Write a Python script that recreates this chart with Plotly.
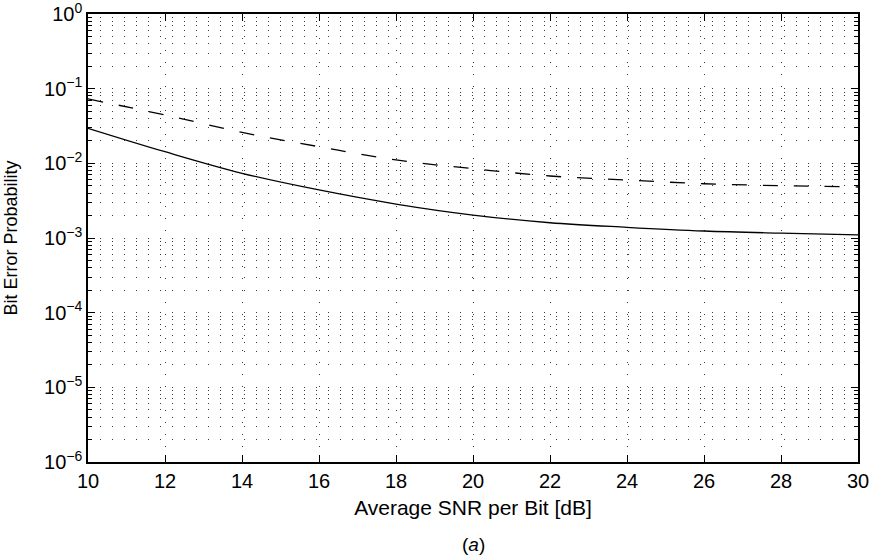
import plotly.graph_objects as go

snr_db = [10, 12, 14, 16, 18, 20, 22, 24, 26, 28, 30]
ber_solid = [0.0295, 0.0143, 0.00736, 0.00440, 0.00285, 0.00203, 0.00160, 0.00139, 0.00124, 0.00116, 0.00110]
ber_dashed = [0.0728, 0.0444, 0.0260, 0.0167, 0.0111, 0.00848, 0.00677, 0.00598, 0.00533, 0.00502, 0.00482]

x_ticks = [10, 12, 14, 16, 18, 20, 22, 24, 26, 28, 30]
y_exps = [0, -1, -2, -3, -4, -5, -6]
y_tickvals = [10.0 ** e for e in y_exps]
y_ticktext = ["10<sup>%s</sup>" % (str(e).replace("-", "\u2212")) for e in y_exps]
y_minor = [m * 10.0 ** e for e in range(-6, 0) for m in range(2, 10)]

FONT = "Liberation Sans, Arial, sans-serif"
DOT = "1px,11px"
GRIDC = "#3a3a3a"

fig = go.Figure()
fig.add_trace(go.Scatter(x=snr_db, y=ber_dashed, mode="lines",
                         line=dict(color="black", width=1.3, dash="15px,16px", shape="spline"), showlegend=False))
fig.add_trace(go.Scatter(x=snr_db, y=ber_solid, mode="lines",
                         line=dict(color="black", width=1.3, shape="spline"), showlegend=False))

fig.update_layout(
    width=873, height=560,
    margin=dict(l=88, r=15, t=14, b=98, autoexpand=False),
    paper_bgcolor="white", plot_bgcolor="white",
    font=dict(family=FONT, color="black", size=20),
    xaxis=dict(
        range=[10, 30], tickvals=x_ticks, ticks="inside", ticklen=7, tickcolor="black",
        showline=True, linecolor="black", linewidth=1.5, mirror="ticks",
        showgrid=True, gridcolor=GRIDC, gridwidth=1, griddash=DOT,
        zeroline=False, tickfont=dict(size=20), automargin=False, ticklabeloverflow="allow",
        title=dict(text="Average SNR per Bit [dB]", font=dict(size=21), standoff=10),
    ),
    yaxis=dict(
        type="log", range=[-6, 0], tickvals=y_tickvals, ticktext=y_ticktext,
        ticks="inside", ticklen=7, tickcolor="black",
        showline=True, linecolor="black", linewidth=1.5, mirror="ticks",
        showgrid=True, gridcolor=GRIDC, gridwidth=1, griddash=DOT,
        zeroline=False, tickfont=dict(size=20), automargin=False, ticklabeloverflow="allow",
        minor=dict(tickmode="array", tickvals=y_minor, ticks="inside", ticklen=4, tickcolor="black",
                   showgrid=True, gridcolor=GRIDC, gridwidth=1, griddash=DOT),
        title=dict(text="Bit Error Probability", font=dict(size=18), standoff=22),
    ),
    annotations=[dict(text="(<i>a</i>)", x=0.5, xref="paper", y=-0.185, yref="paper",
                      yanchor="middle", showarrow=False, font=dict(size=19))],
)
fig.write_html("out.html", config={"displayModeBar": False},
               post_script="document.body.style.margin='0';document.body.style.overflow='hidden';")
